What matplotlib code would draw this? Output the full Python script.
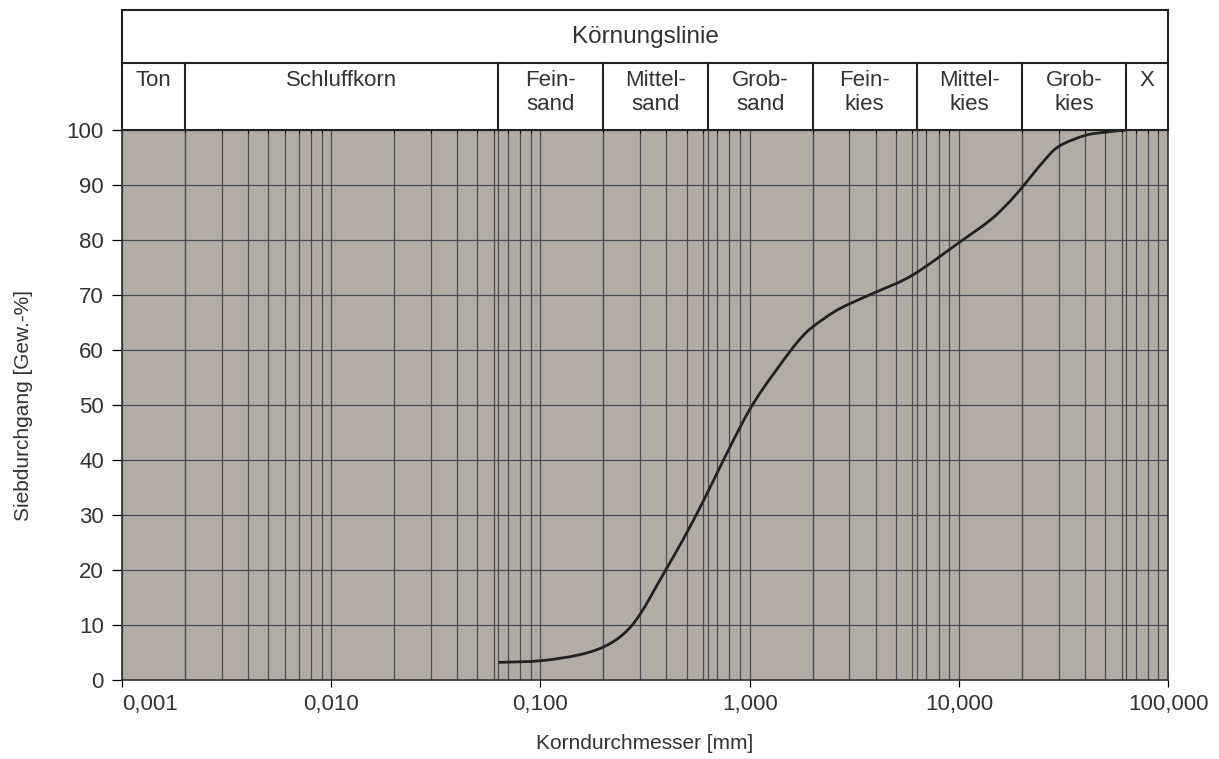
import numpy as np
import matplotlib.pyplot as plt
from matplotlib.path import Path
from matplotlib.patches import PathPatch
from matplotlib.ticker import LogLocator, NullFormatter

plt.rcParams['font.family'] = ['Liberation Sans', 'DejaVu Sans']

# grain size curve
diameter_mm = [0.063, 0.1, 0.15, 0.2, 0.25, 0.3, 0.39, 0.48, 0.6, 0.75, 0.93, 1.05,
               1.2, 1.35, 1.6, 1.8, 2.0, 2.5, 3.0, 4.0, 6.0, 10.0, 14.0, 17.0, 20.0,
               25.0, 30.0, 40.0, 50.0, 63.0]
passing_pct = [3.2, 3.5, 4.5, 6.0, 8.4, 12.0, 19.5, 25.5, 32.5, 40.0, 47.0, 50.5,
               53.8, 56.5, 60.3, 62.6, 64.2, 66.8, 68.4, 70.5, 73.6, 79.5, 83.5, 86.5, 89.5,
               94.0, 97.0, 99.0, 99.6, 100.0]

# soil classes (DIN) for the header
zone_edges = [0.001, 0.002, 0.063, 0.2, 0.63, 2.0, 6.3, 20.0, 63.0, 100.0]
zone_labels = ["Ton", "Schluffkorn", "Fein-\nsand", "Mittel-\nsand", "Grob-\nsand",
               "Fein-\nkies", "Mittel-\nkies", "Grob-\nkies", "X"]

x_ticks = [0.001, 0.01, 0.1, 1, 10, 100]
x_ticklabels = ["0,001", "0,010", "0,100", "1,000", "10,000", "100,000"]
y_ticks = list(range(0, 101, 10))

txt = '#333333'
grid_c = '#4a4d55'


def smooth_path(xs, ys):
    # Excel-like smoothed line: Catmull-Rom segments as cubic Beziers in log-x space
    u = np.log10(xs)
    y = np.asarray(ys, float)
    pts = np.column_stack([u, y])
    ext = np.vstack([pts[0], pts, pts[-1]])
    verts = [pts[0]]
    codes = [Path.MOVETO]
    for i in range(len(pts) - 1):
        p0, p1, p2, p3 = ext[i], ext[i + 1], ext[i + 2], ext[i + 3]
        verts += [p1 + (p2 - p0) / 6, p2 - (p3 - p1) / 6, p2]
        codes += [Path.CURVE4] * 3
    verts = np.array(verts)
    verts[:, 0] = 10 ** verts[:, 0]
    return Path(verts, codes)


fig = plt.figure(figsize=(12.19, 7.59), dpi=100)
ax = fig.add_axes([0.1001, 0.1041, 0.8581, 0.7246])
hd = fig.add_axes([0.1001, 0.8287, 0.8581, 0.1581], sharex=ax)

ax.set_facecolor('#b3aca4')
ax.set_xscale('log')
ax.set_xlim(0.001, 100)
ax.set_ylim(0, 100)

# grid: every 1..9 per decade plus class limits
ax.xaxis.set_minor_locator(LogLocator(base=10, subs=range(2, 10)))
ax.xaxis.set_minor_formatter(NullFormatter())
ax.set_xticks(x_ticks)
ax.set_xticklabels(x_ticklabels)
ax.set_yticks(y_ticks)
ax.grid(True, which='both', axis='x', color=grid_c, lw=0.9)
ax.grid(True, which='major', axis='y', color=grid_c, lw=0.9)
for e in zone_edges[1:-1]:
    ax.axvline(e, color=grid_c, lw=0.9, zorder=0.5)
ax.set_axisbelow(True)

ax.add_patch(PathPatch(smooth_path(diameter_mm, passing_pct), fill=False,
                       edgecolor='#222222', lw=2.0, zorder=3))

ax.tick_params(axis='x', which='major', direction='out', length=5, width=0.9,
               labelsize=16, labelcolor=txt, pad=5)
ax.tick_params(axis='x', which='minor', length=0)
ax.tick_params(axis='y', direction='out', length=7, width=0.9,
               labelsize=16, labelcolor=txt, pad=6)
ax.get_xticklabels()[0].set_horizontalalignment('left')
for s in ax.spines.values():
    s.set_color('#333333')
    s.set_linewidth(1.2)

ax.set_xlabel("Korndurchmesser [mm]", fontsize=15, color=txt, labelpad=14)
ax.set_ylabel("Siebdurchgang [Gew.-%]", fontsize=15, color=txt, labelpad=24)

# header table
hd.set_ylim(0, 1)
hd.set_facecolor('white')
hd.tick_params(left=False, bottom=False, labelleft=False, labelbottom=False)
for s in hd.spines.values():
    s.set_color('#222222')
    s.set_linewidth(1.5)
split = 0.558
hd.axhline(split, color='#222222', lw=1.5)
for e in zone_edges[1:-1]:
    hd.plot([e, e], [0, split], color='#222222', lw=1.5)
hd.text(np.sqrt(zone_edges[0] * zone_edges[-1]), (1 + split) / 2, "Körnungslinie",
        ha='center', va='center', fontsize=17.5, color=txt)
for lo, hi, lab in zip(zone_edges[:-1], zone_edges[1:], zone_labels):
    hd.text(np.sqrt(lo * hi), split - 0.06, lab, ha='center', va='top',
            fontsize=16, color=txt, linespacing=1.15)

fig.savefig('out.png', dpi=100, facecolor='white')
